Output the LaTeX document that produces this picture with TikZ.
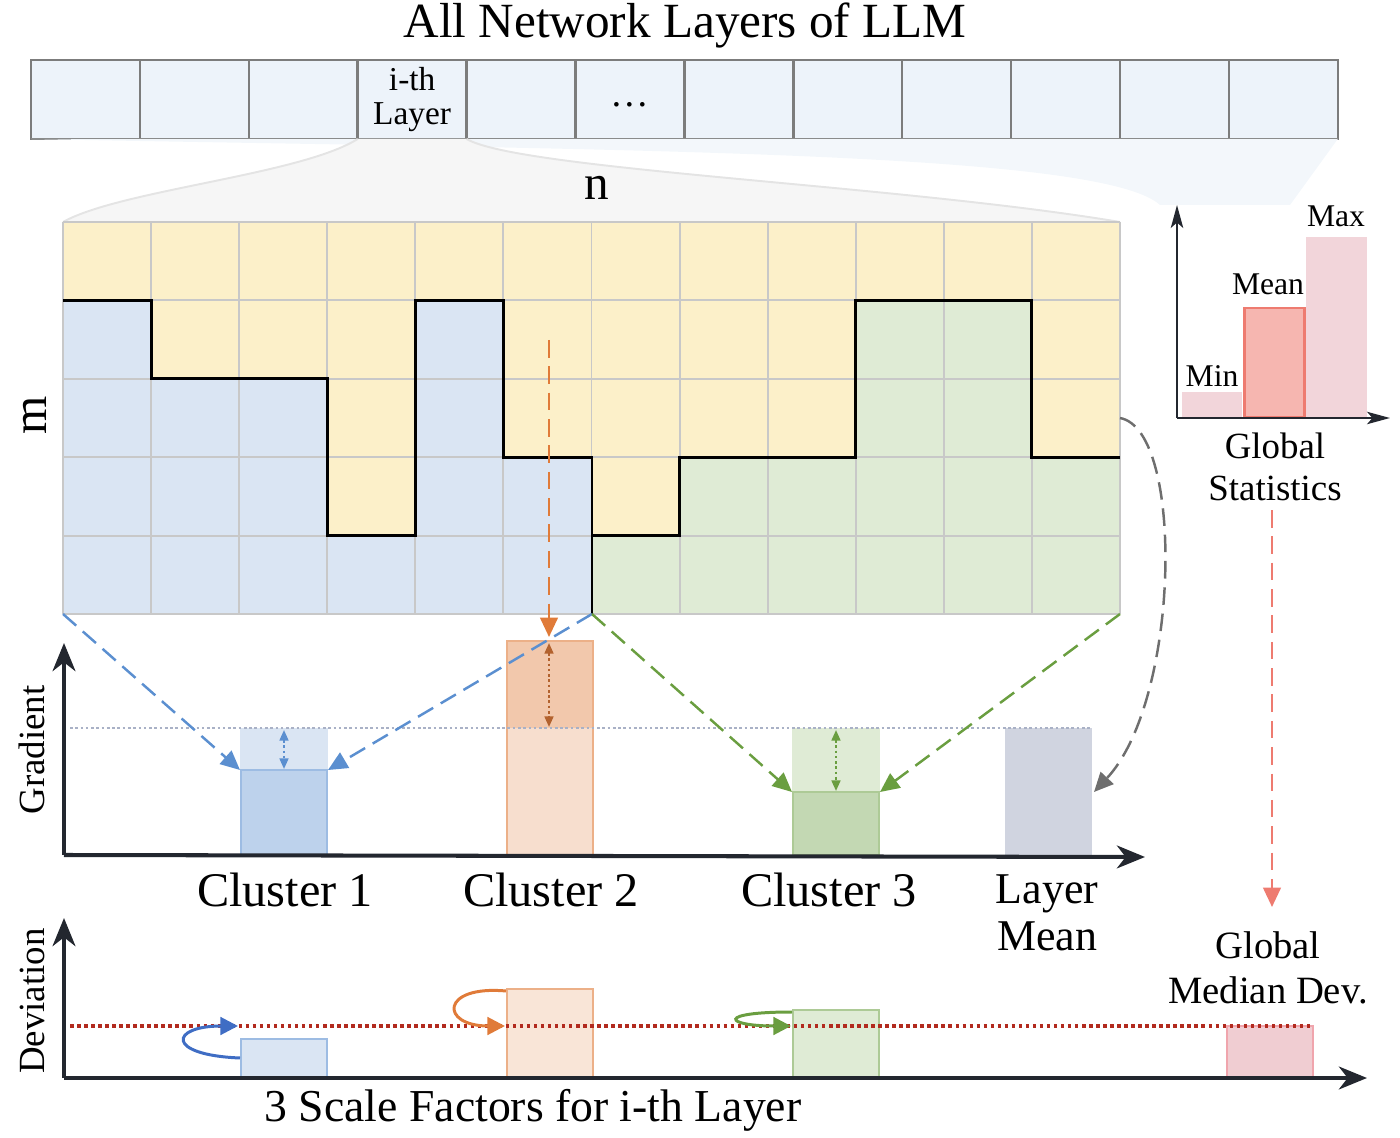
\documentclass[tikz,border=0pt]{standalone}
\usepackage{fontspec}
\setmainfont{Liberation Serif}
\usetikzlibrary{arrows.meta}

\definecolor{cellyellow}{HTML}{FCF0C9}
\definecolor{cellblue}{HTML}{DAE5F3}
\definecolor{cellgreen}{HTML}{DFEBD5}
\definecolor{gridgray}{HTML}{C8C8C8}
\definecolor{layerfill}{HTML}{EDF3FA}
\definecolor{layerborder}{HTML}{7C7C7C}
\definecolor{zoomgray}{HTML}{F6F6F6}
\definecolor{zoomedge}{HTML}{E4E4E4}
\definecolor{zoomblue}{HTML}{F3F7FB}
\definecolor{axisblack}{HTML}{23272F}
\definecolor{blueline}{HTML}{5B8FD0}
\definecolor{darkblue}{HTML}{3F6DC4}
\definecolor{orangeline}{HTML}{E07B39}
\definecolor{greenline}{HTML}{6A9E40}
\definecolor{grayline}{HTML}{6E6E6E}
\definecolor{redline}{HTML}{EE7B70}
\definecolor{darkred}{HTML}{B22A1E}
\definecolor{meanline}{HTML}{A9B1C6}
\definecolor{pinkbar}{HTML}{F2D5DA}
\definecolor{pinkdev}{HTML}{F0CDD2}
\definecolor{pinkedge}{HTML}{F0A5AD}

\begin{document}
\begin{tikzpicture}[x=0.02cm, y=-0.02cm,
    gridline/.style={draw=gridgray, line width=1.1pt},
    cutline/.style={draw=black, line width=1.7pt},
    layercell/.style={draw=layerborder, fill=layerfill, line width=1.4pt, minimum width=2.178cm, minimum height=1.58cm, inner sep=0pt, outer sep=0pt},
    axis/.style={draw=axisblack, line width=2.3pt, -{Stealth[length=16pt, width=13pt, inset=5pt]}},
    smallaxis/.style={draw=axisblack, line width=1.4pt, -{Stealth[length=13pt, width=7pt, inset=3pt]}},
    dasharrow/.style={line width=1.4pt, dash pattern=on 10pt off 5pt, -{Triangle[length=11pt, width=10pt]}},
    gaparrow/.style={line width=1.2pt, dash pattern=on 1.5pt off 1.5pt, {Triangle[length=6pt, width=5pt]}-{Triangle[length=6pt, width=5pt]}},
    swingarrow/.style={line width=1.7pt, -{Triangle[length=10pt, width=10pt]}},
    bigtext/.style={inner sep=0pt, font=\fontsize{27.5}{30}\selectfont},
    midtext/.style={inner sep=0pt, align=center, font=\fontsize{21}{24}\selectfont},
]
    \useasboundingbox (0,0) rectangle (1400,1138);

    % Top: all layers of the model
    \node[inner sep=0pt, font=\fontsize{28}{30}\selectfont] (title) at (685,25) {All Network Layers of LLM};
    \foreach \c in {0,...,11}
        \node[layercell] (L\c) at ({85.45+108.9*\c},99.5) {};
    \node[inner sep=0pt, align=center, font=\fontsize{19}{19}\selectfont] (ith) at (L3) {i-th\\Layer};
    \node[inner sep=0pt, font=\fontsize{22}{22}\selectfont] (dots) at ([yshift=-3pt]L5) {\dots};

    % Zoom into the i-th layer
    \coordinate (mtl) at (63,222);
    \coordinate (mtr) at (1120,222);
    \coordinate (mbl) at (63,614);
    \coordinate (mbm) at (592,614);
    \coordinate (mbr) at (1120,614);
    \fill[zoomblue] (L0.south west) .. controls (600,150) and (1100,150) .. (1160,205) -- (1290,205) -- (L11.south east) -- cycle;
    \fill[zoomgray] (L3.south west) .. controls (300,175) and (120,190) .. (mtl) -- (mtr) .. controls (900,185) and (520,170) .. (L3.south east) -- cycle;
    \draw[zoomedge, line width=1.1pt] (L3.south west) .. controls (300,175) and (120,190) .. (mtl);
    \draw[zoomedge, line width=1.1pt] (L3.south east) .. controls (520,170) and (900,185) .. (mtr);
    \node[inner sep=0pt, font=\fontsize{28}{28}\selectfont] (n) at (597,188) {n};
    \node[inner sep=0pt, rotate=90, font=\fontsize{28}{28}\selectfont] (m) at (35,415) {m};

    % Weight matrix, split into three clusters
    \foreach \c/\k/\col in {0/1/cellblue, 1/2/cellblue, 2/2/cellblue, 3/4/cellblue, 4/1/cellblue, 5/3/cellblue,
                            6/4/cellgreen, 7/3/cellgreen, 8/3/cellgreen, 9/1/cellgreen, 10/1/cellgreen, 11/3/cellgreen} {
        \fill[cellyellow] ({63+88.08*\c},222) rectangle ({151.08+88.08*\c},{222+78.4*\k});
        \fill[\col] ({63+88.08*\c},{222+78.4*\k}) rectangle ({151.08+88.08*\c},614);
    }
    \foreach \c in {0,...,12}
        \draw[gridline] ({63+88.08*\c},222) -- ({63+88.08*\c},614);
    \foreach \r in {0,...,5}
        \draw[gridline] (63,{222+78.4*\r}) -- (1120,{222+78.4*\r});
    \draw[cutline] (63,300.4) -| (151.1,378.8) -| (327.2,535.6) -| (415.3,300.4) -| (503.4,457.2) -| (mbm);
    \draw[cutline] (591.5,535.6) -| (679.6,457.2) -| (855.7,300.4) -| (1031.9,457.2) -- (1120,457.2);

    % Global statistics
    \fill[pinkbar] (1182,392) rectangle (1242,418);
    \fill[pinkbar] (1306,237) rectangle (1367,418);
    \filldraw[fill=redline!55, draw=redline, line width=1.7pt] (1244,308) rectangle (1304,417);
    \draw[smallaxis] (1177,418) -- (1177,205);
    \draw[smallaxis] (1177,418) -- (1390,418);
    \node[inner sep=0pt, font=\fontsize{18}{18}\selectfont] (min) at (1212,376) {Min};
    \node[inner sep=0pt, font=\fontsize{18}{18}\selectfont] (mean) at (1268,284) {Mean};
    \node[inner sep=0pt, font=\fontsize{18}{18}\selectfont] (max) at (1336,216) {Max};
    \node[midtext] (gstat) at (1275,467) {Global\\Statistics};

    % Gradient chart
    \fill[cellblue] (240,728) rectangle (328,770);
    \filldraw[fill=blueline!40, draw=blueline!60, line width=1.4pt] (241,770) rectangle (327,855);
    \fill[orangeline!25] (507,641) rectangle (593,855);
    \fill[orangeline!42] (507,641) rectangle (593,728);
    \draw[orangeline!60, line width=1.4pt] (507,641) rectangle (593,855);
    \fill[cellgreen] (792,728) rectangle (880,792);
    \filldraw[fill=greenline!40, draw=greenline!55, line width=1.4pt] (793,792) rectangle (879,855);
    \fill[meanline!55] (1005,728) rectangle (1092,855);
    \draw[meanline, line width=1.5pt, dash pattern=on 1.5pt off 1.5pt] (70,728) -- (1092,728);
    \draw[gaparrow, blueline] (284,730) -- (284,769);
    \draw[gaparrow, orangeline!80!black] (549,643) -- (549,727);
    \draw[gaparrow, greenline] (836,730) -- (836,791);
    \draw[axis] (64,855) -- (64,643);
    \draw[axis] (64,855) -- (1145,857);
    \node[midtext, rotate=90] (grad) at (32,750) {Gradient};
    \node[bigtext] (c1) at (285,890) {Cluster 1};
    \node[bigtext] (c2) at (551,890) {Cluster 2};
    \node[bigtext] (c3) at (829,890) {Cluster 3};
    \node[inner sep=0pt, align=center, font=\fontsize{25}{27}\selectfont] (lmean) at (1047,913) {Layer\\Mean};

    % Cluster and layer arrows
    \coordinate (b1l) at (240,770);
    \coordinate (b1r) at (328,770);
    \coordinate (b2t) at (549,637);
    \coordinate (b3l) at (792,792);
    \coordinate (b3r) at (880,792);
    \coordinate (lm) at (1094,792);
    \coordinate (o2) at (549,340);
    \coordinate (g1) at (1120,418);
    \coordinate (r1) at (1272,510);
    \coordinate (gmd) at (1272,907);
    \draw[dasharrow, blueline] (mbl) -- (b1l);
    \draw[dasharrow, blueline] (mbm) -- (b1r);
    \draw[dasharrow, greenline] (mbm) -- (b3l);
    \draw[dasharrow, greenline] (mbr) -- (b3r);
    \draw[dasharrow, orangeline] (o2) -- (b2t);
    \draw[dasharrow, grayline] (g1) .. controls (1185,430) and (1180,700) .. (lm);
    \draw[dasharrow, redline] (r1) -- (gmd);

    % Deviation chart
    \filldraw[fill=cellblue, draw=blueline!60, line width=1.5pt] (241,1039) rectangle (327,1077);
    \filldraw[fill=orangeline!20, draw=orangeline!60, line width=1.5pt] (507,989) rectangle (593,1077);
    \filldraw[fill=cellgreen, draw=greenline!55, line width=1.5pt] (793,1010) rectangle (879,1077);
    \filldraw[fill=pinkdev, draw=pinkedge, line width=1.5pt] (1227,1026) rectangle (1313,1077);
    \draw[darkred, line width=2pt, dash pattern=on 2pt off 2pt] (70,1026) -- (1312,1026);
    \draw[swingarrow, darkblue] (240,1058) .. controls (165,1055) and (170,1026) .. (238,1026);
    \draw[swingarrow, orangeline] (506,991) .. controls (440,985) and (440,1026) .. (505,1026);
    \draw[swingarrow, greenline] (792,1012) .. controls (715,1012) and (725,1026) .. (791,1026);
    \draw[axis] (64,1078) -- (64,918);
    \draw[axis] (64,1078) -- (1367,1078);
    \node[midtext, rotate=90] (dev) at (32,1001) {Deviation};
    \node[inner sep=0pt, align=center, font=\fontsize{22}{26}\selectfont] (gmed) at (1268,968) {Global\\Median Dev.};
    \node[inner sep=0pt, font=\fontsize{26}{28}\selectfont] (scale) at (533,1110) {3 Scale Factors for i-th Layer};

\end{tikzpicture}
\end{document}
